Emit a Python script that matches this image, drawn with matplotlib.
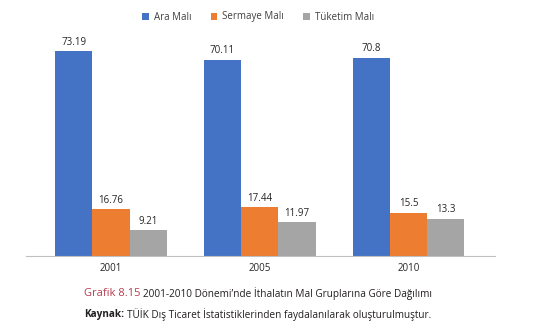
import numpy as np
import matplotlib
matplotlib.use("Agg")
import matplotlib.pyplot as plt

# ======== data
years = ["2001", "2005", "2010"]
series_names = ["Ara Malı", "Sermaye Malı", "Tüketim Malı"]
ara = [73.19, 70.11, 70.8]
sermaye = [16.76, 17.44, 15.5]
tuketim = [9.21, 11.97, 13.3]
value_labels = [["73.19", "70.11", "70.8"],
                ["16.76", "17.44", "15.5"],
                ["9.21", "11.97", "13.3"]]

colors = ["#4472C4", "#ED7D31", "#A5A5A5"]

plt.rcParams["font.family"] = ["Open Sans", "DejaVu Sans"]

fig = plt.figure(figsize=(5.6, 3.25), dpi=100)
ax = fig.add_axes([26 / 560, 69 / 325, 469 / 560, 226 / 325])

x = np.arange(len(years))
w = 0.25
for i, (vals, name) in enumerate(zip([ara, sermaye, tuketim], series_names)):
    pos = x + (i - 1) * w
    bars = ax.bar(pos, vals, width=w, color=colors[i], label=name)
    for b, lab in zip(bars, value_labels[i]):
        ax.text(b.get_x() + b.get_width() / 2, b.get_height() + 1.2, lab,
                ha="center", va="bottom", fontsize=7, color="#262626")

ax.set_xlim(-0.571, 2.581)
ax.set_ylim(0, 80.7)
ax.set_xticks(x)
ax.set_xticklabels(years, fontsize=7, color="#262626")
ax.tick_params(axis="x", length=0, pad=5)
ax.set_yticks([])
for s in ["top", "right", "left"]:
    ax.spines[s].set_visible(False)
ax.spines["bottom"].set_color("#BFBFBF")
ax.spines["bottom"].set_linewidth(0.8)

leg = ax.legend(loc="center", bbox_to_anchor=(0.495, (325 - 17 - 69) / 226), ncol=3,
                frameon=False, fontsize=7, handlelength=0.7, handleheight=0.7,
                columnspacing=2.0, handletextpad=0.5)
for t in leg.get_texts():
    t.set_color("#404040")

# ======== caption
fig.text(84 / 560, 1 - 294 / 325, "Grafik 8.15", ha="left", va="center",
         fontsize=8, color="#B83D50")
fig.text(143 / 560, 1 - 294 / 325, "2001-2010 Dönemi’nde İthalatın Mal Gruplarına Göre Dağılımı",
         ha="left", va="center", fontsize=7.2, color="#231F20")
fig.text(84 / 560, 1 - 315 / 325, "Kaynak:", ha="left", va="center",
         fontsize=7.2, fontweight="bold", color="#231F20")
fig.text(127 / 560, 1 - 315 / 325, "TÜİK Dış Ticaret İstatistiklerinden faydalanılarak oluşturulmuştur.",
         ha="left", va="center", fontsize=7.2, color="#231F20")

fig.savefig("out.png", dpi=100)
